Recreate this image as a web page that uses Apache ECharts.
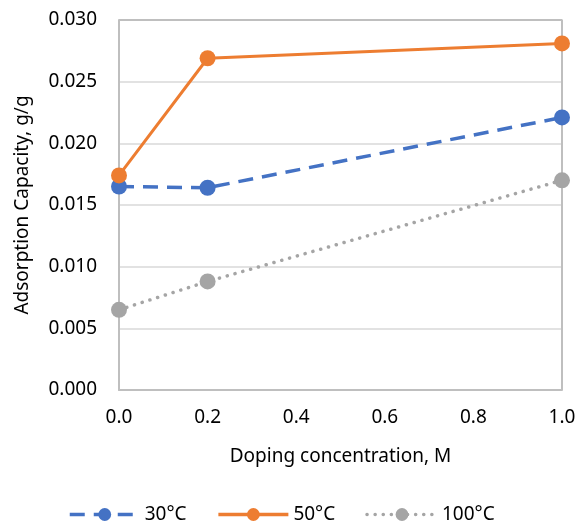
<!DOCTYPE html>
<html>
<head>
<meta charset="utf-8">
<script src="https://cdn.jsdelivr.net/npm/echarts@6/dist/echarts.min.js"></script>
<style>
  html, body { margin: 0; padding: 0; background: #fff; }
  #chart { width: 579px; height: 522px; }
</style>
</head>
<body>
<div id="chart"></div>
<script>
// doping concentration (M)
const doping = [0.0, 0.2, 1.0];
// adsorption capacity (g/g)
const cap30 = [0.0165, 0.0164, 0.0221];
const cap50 = [0.0174, 0.0269, 0.0281];
const cap100 = [0.0065, 0.0088, 0.0170];
const seriesNames = ['30°C', '50°C', '100°C'];

const font = 'Noto Sans';

function pairs(ys) {
  return doping.map((x, i) => [x, ys[i]]);
}

let myChart = echarts.init(document.getElementById('chart'));
let options = {
  animation: false,
  textStyle: { fontFamily: font },
  grid: {
    left: 119,
    right: 17,
    top: 20,
    bottom: 132
  },
  legend: {
    data: seriesNames,
    top: 500,
    left: 63,
    itemWidth: 70,
    itemHeight: 16,
    itemGap: 30,
    lineStyle: { width: 3.5 },
    textStyle: { fontSize: 19, color: '#000', fontFamily: font }
  },
  xAxis: {
    type: 'value',
    min: 0,
    max: 1,
    interval: 0.2,
    name: 'Doping concentration, M',
    nameLocation: 'middle',
    nameGap: 57,
    nameTextStyle: { fontSize: 19, color: '#000' },
    axisLine: { show: true, lineStyle: { color: '#bfbfbf', width: 2 } },
    axisTick: { show: false },
    splitLine: { show: false },
    axisLabel: {
      fontSize: 19, color: '#000', margin: 18,
      formatter: v => v.toFixed(1)
    }
  },
  yAxis: {
    type: 'value',
    min: 0,
    max: 0.03,
    interval: 0.005,
    name: 'Adsorption Capacity, g/g',
    nameLocation: 'middle',
    nameGap: 87,
    nameTextStyle: { fontSize: 19, color: '#000' },
    axisLine: { show: true, lineStyle: { color: '#bfbfbf', width: 2 } },
    axisTick: { show: false },
    splitLine: { lineStyle: { color: '#d9d9d9', width: 1.5 } },
    axisLabel: {
      fontSize: 19, color: '#000', margin: 22,
      formatter: v => v.toFixed(3)
    }
  },
  series: [
    {
      name: seriesNames[0],
      type: 'line',
      data: pairs(cap30),
      symbol: 'circle',
      symbolSize: 16,
      itemStyle: { color: '#4472c4' },
      lineStyle: { width: 3.5, type: [15, 9], color: '#4472c4' }
    },
    {
      name: seriesNames[1],
      type: 'line',
      data: pairs(cap50),
      symbol: 'circle',
      symbolSize: 16,
      itemStyle: { color: '#ed7d31' },
      lineStyle: { width: 3, color: '#ed7d31' }
    },
    {
      name: seriesNames[2],
      type: 'line',
      data: pairs(cap100),
      symbol: 'circle',
      symbolSize: 16,
      itemStyle: { color: '#a5a5a5' },
      lineStyle: { width: 3.5, type: [0.1, 8], cap: 'round', color: '#a5a5a5' }
    },
    {
      // right and top border of the plot box
      type: 'line',
      data: [[1, 0], [1, 0.03], [0, 0.03]],
      symbol: 'none',
      silent: true,
      lineStyle: { color: '#bfbfbf', width: 2 },
      z: 1
    }
  ]
};
myChart.setOption(options);
</script>
</body>
</html>
